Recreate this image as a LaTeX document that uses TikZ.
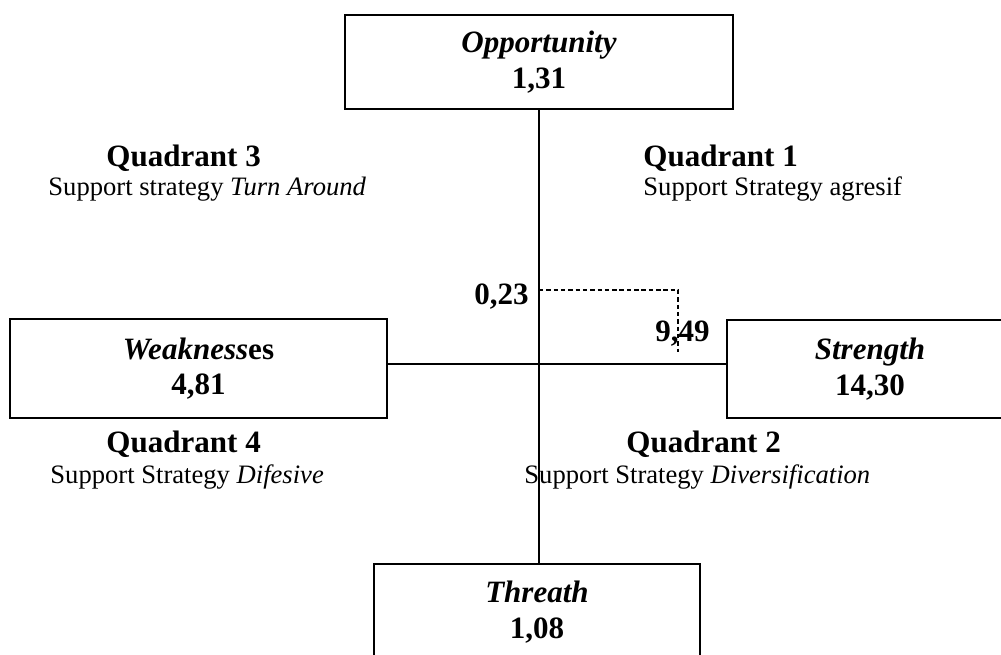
\documentclass[tikz,border=0pt]{standalone}
\usepackage{fontspec}
\setmainfont{Liberation Serif}
\usepackage{tikz}
\usetikzlibrary{positioning, calc}
\tikzset{
  % Box styles
  factorbox/.style={rectangle, draw=black, line width=0.9pt, inner sep=0pt, align=center, font=\fontsize{14}{16.1}\selectfont\bfseries},
  % Text styles
  quadtitle/.style={anchor=base west, inner sep=0pt, font=\fontsize{14}{16.1}\selectfont\bfseries},
  quadtext/.style={anchor=base west, inner sep=0pt, font=\fontsize{12}{13.8}\selectfont},
  valuelabel/.style={anchor=base, inner sep=0pt, font=\fontsize{14}{16.1}\selectfont\bfseries},
  % Line styles
  axisline/.style={draw=black, line width=0.8pt},
  guideline/.style={draw=black, line width=0.6pt, dash pattern=on 2pt off 1.3pt}
}

\begin{document}
\begin{tikzpicture}[x=0.01585cm, y=-0.01585cm]
  \clip (0,0) rectangle (1001,655);

  % Factors
  \node[factorbox, minimum width=6.15cm, minimum height=1.49cm] (opp) at (539,62) {\textit{Opportunity}\\1,31};
  \node[factorbox, minimum width=5.98cm, minimum height=1.57cm] (weak) at (198.5,368.5) {\textit{Weakness}es\\4,81};
  \node[factorbox, minimum width=4.53cm, minimum height=1.55cm] (str) at (870,369) {\textit{Strength}\\14,30};
  \node[factorbox, minimum width=5.18cm, minimum height=1.52cm] (thr) at (537,612) {\textit{Threath}\\1,08};

  % Axes
  \coordinate (cross) at (539,364);
  \draw[axisline] (opp.south) -- (opp.south |- thr.north);
  \draw[axisline] (weak.east |- cross) -- (str.west |- cross);

  % Position
  \coordinate (oval) at (539,290);
  \coordinate (sval) at (678,352);
  \draw[guideline] (oval) -| (sval);
  \node[valuelabel, anchor=base east] (olab) at (529,305) {0,23};
  \node[valuelabel] (slab) at (682.5,342) {9,49};

  % Quadrants
  \node[quadtitle] (q3title) at (106,167) {Quadrant 3};
  \node[quadtext] (q3text) at (48,196) {Support strategy \textit{Turn Around}};
  \node[quadtitle] (q1title) at (643,167) {Quadrant 1};
  \node[quadtext] (q1text) at (643,196) {Support Strategy agresif};
  \node[quadtitle] (q4title) at (106,452) {Quadrant 4};
  \node[quadtext] (q4text) at (50,483) {Support Strategy \textit{Difesive}};
  \node[quadtitle] (q2title) at (626,452) {Quadrant 2};
  \node[quadtext] (q2text) at (524,483) {Support Strategy \textit{Diversification}};
\end{tikzpicture}
\end{document}
